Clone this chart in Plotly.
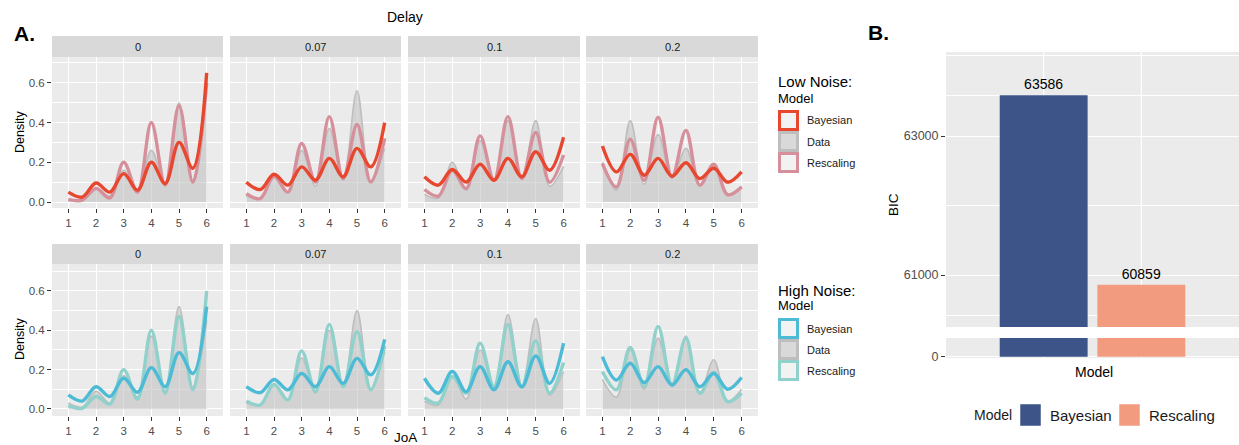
import plotly.graph_objects as go

W, H = 1239, 445
FONT = "Liberation Sans"

# ---------------- data ----------------
joa = [1, 1.5, 2, 2.5, 3, 3.5, 4, 4.5, 5, 5.5, 6]
delays = ["0", "0.07", "0.1", "0.2"]
x_ticks = [1, 2, 3, 4, 5, 6]
y_ticks = [0.0, 0.2, 0.4, 0.6]
y_ticklabels = ["0.0", "0.2", "0.4", "0.6"]

low_bayesian = [
    [0.05, 0.025, 0.096, 0.05, 0.143, 0.06, 0.20, 0.093, 0.30, 0.17, 0.65],
    [0.10, 0.063, 0.14, 0.085, 0.177, 0.11, 0.22, 0.127, 0.27, 0.177, 0.40],
    [0.127, 0.085, 0.164, 0.10, 0.19, 0.11, 0.22, 0.127, 0.253, 0.16, 0.326],
    [0.282, 0.152, 0.24, 0.135, 0.22, 0.13, 0.198, 0.118, 0.17, 0.10, 0.152],
]
low_rescaling = [
    [0.013, 0.01, 0.068, 0.02, 0.20, 0.05, 0.40, 0.085, 0.485, 0.10, 0.60],
    [0.042, 0.017, 0.13, 0.05, 0.295, 0.10, 0.43, 0.118, 0.39, 0.10, 0.32],
    [0.063, 0.03, 0.16, 0.068, 0.333, 0.11, 0.43, 0.118, 0.35, 0.10, 0.237],
    [0.194, 0.076, 0.316, 0.11, 0.427, 0.127, 0.36, 0.085, 0.19, 0.037, 0.076],
]
low_data = [
    [0.01, 0.005, 0.07, 0.03, 0.16, 0.06, 0.26, 0.09, 0.50, 0.10, 0.60],
    [0.03, 0.02, 0.13, 0.05, 0.26, 0.08, 0.37, 0.11, 0.56, 0.10, 0.27],
    [0.04, 0.02, 0.20, 0.06, 0.31, 0.11, 0.41, 0.12, 0.41, 0.08, 0.18],
    [0.20, 0.06, 0.41, 0.09, 0.34, 0.12, 0.27, 0.08, 0.19, 0.04, 0.08],
]
high_bayesian = [
    [0.071, 0.04, 0.113, 0.063, 0.156, 0.085, 0.21, 0.113, 0.286, 0.18, 0.52],
    [0.113, 0.083, 0.15, 0.097, 0.18, 0.113, 0.215, 0.13, 0.257, 0.173, 0.354],
    [0.156, 0.08, 0.19, 0.088, 0.215, 0.097, 0.24, 0.113, 0.27, 0.13, 0.334],
    [0.266, 0.147, 0.232, 0.134, 0.215, 0.122, 0.20, 0.113, 0.18, 0.10, 0.16],
]
high_rescaling = [
    [0.017, 0.003, 0.063, 0.025, 0.20, 0.05, 0.40, 0.08, 0.47, 0.097, 0.60],
    [0.04, 0.02, 0.125, 0.046, 0.295, 0.088, 0.43, 0.113, 0.393, 0.097, 0.32],
    [0.058, 0.03, 0.164, 0.08, 0.334, 0.113, 0.43, 0.113, 0.346, 0.08, 0.236],
    [0.19, 0.097, 0.313, 0.113, 0.42, 0.122, 0.36, 0.08, 0.185, 0.037, 0.08],
]
high_data = [
    [0.03, 0.01, 0.09, 0.03, 0.17, 0.06, 0.37, 0.09, 0.52, 0.11, 0.45],
    [0.03, 0.02, 0.12, 0.05, 0.26, 0.08, 0.40, 0.11, 0.50, 0.10, 0.29],
    [0.04, 0.02, 0.17, 0.05, 0.30, 0.11, 0.48, 0.11, 0.46, 0.07, 0.19],
    [0.15, 0.06, 0.30, 0.10, 0.36, 0.13, 0.37, 0.08, 0.25, 0.04, 0.10],
]

bic_models = ["Bayesian", "Rescaling"]
bic_values = [63586, 60859]
bic_category = "Model"

# ---------------- styles ----------------
C_LOW_BAYES = "#E8472F"
C_LOW_RESC = "#D6909B"
C_HIGH_BAYES = "#4DBBD5"
C_HIGH_RESC = "#91D1CB"
C_DATA_LINE = "#BEBEBE"
C_DATA_FILL = "rgba(190,190,190,0.55)"
C_BAR = {"Bayesian": "#3C5488", "Rescaling": "#F39B7F"}
PANEL_BG = "#EBEBEB"
STRIP_BG = "#D9D9D9"
TICK_FONT = dict(family=FONT, size=11.5, color="#4D4D4D")


def X(px):
    return px / W


def Y(px):
    return 1 - px / H


cols = [(52, 223), (230, 401), (408, 580), (586, 758)]
rows = [(57, 208), (264, 416)]
strips = [(36, 57), (244, 264)]
yranges = [[-0.03, 0.73], [-0.036, 0.737]]

fig = go.Figure()
layout = dict(
    template="none",
    width=W, height=H, margin=dict(l=0, r=0, t=0, b=0, pad=0, autoexpand=False),
    paper_bgcolor="white", plot_bgcolor=PANEL_BG, showlegend=False,
    font=dict(family=FONT, size=11, color="#1A1A1A"),
)
shapes = []
annotations = []

groups = [
    (low_data, low_rescaling, low_bayesian, C_LOW_RESC, C_LOW_BAYES),
    (high_data, high_rescaling, high_bayesian, C_HIGH_RESC, C_HIGH_BAYES),
]

for r, (dat, resc, bay, cr, cb) in enumerate(groups):
    for c in range(4):
        k = r * 4 + c + 1
        xa, ya = f"x{k}", f"y{k}"
        fig.add_trace(go.Scatter(
            x=joa, y=dat[c], xaxis=xa, yaxis=ya, mode="lines",
            line=dict(color=C_DATA_LINE, width=1.6, shape="spline", smoothing=1.0),
            fill="tozeroy", fillcolor=C_DATA_FILL, name="Data"))
        fig.add_trace(go.Scatter(
            x=joa, y=resc[c], xaxis=xa, yaxis=ya, mode="lines",
            line=dict(color=cr, width=3.4, shape="spline", smoothing=1.0),
            name="Rescaling"))
        fig.add_trace(go.Scatter(
            x=joa, y=bay[c], xaxis=xa, yaxis=ya, mode="lines",
            line=dict(color=cb, width=3.4, shape="spline", smoothing=1.0),
            name="Bayesian"))
        layout[f"xaxis{k}"] = dict(
            domain=[X(cols[c][0]), X(cols[c][1])], anchor=ya, automargin=False,
            range=[0.41, 6.59], tickvals=x_ticks, ticks="outside", ticklen=4,
            tickwidth=1, tickcolor="#333333", showgrid=True, gridcolor="white",
            gridwidth=1.2, zeroline=False, showline=False,
            tickfont=TICK_FONT, fixedrange=True)
        layout[f"yaxis{k}"] = dict(
            domain=[Y(rows[r][1]), Y(rows[r][0])], anchor=xa, automargin=False,
            range=yranges[r], tickvals=y_ticks, ticktext=y_ticklabels,
            showticklabels=(c == 0), ticks="outside" if c == 0 else "",
            ticklen=4, tickwidth=1, tickcolor="#333333",
            showgrid=True, gridcolor="white", gridwidth=1.2,
            minor=dict(tickvals=[0.1, 0.3, 0.5, 0.7], showgrid=True,
                       gridcolor="white", gridwidth=0.6, ticks=""),
            zeroline=False, showline=False,
            tickfont=TICK_FONT, fixedrange=True)
        # strip
        shapes.append(dict(type="rect", xref="paper", yref="paper",
                           x0=X(cols[c][0]), x1=X(cols[c][1]),
                           y0=Y(strips[r][1]), y1=Y(strips[r][0]),
                           fillcolor=STRIP_BG, line=dict(width=0), layer="below"))
        annotations.append(dict(text=delays[c], xref="paper", yref="paper",
                                x=X((cols[c][0] + cols[c][1]) / 2),
                                y=Y((strips[r][0] + strips[r][1]) / 2),
                                showarrow=False, xanchor="center", yanchor="middle",
                                font=dict(family=FONT, size=11, color="#1A1A1A")))

# ---------------- panel B ----------------
for m, v in zip(bic_models, bic_values):
    fig.add_trace(go.Bar(
        x=[bic_category], y=[v], xaxis="x9", yaxis="y9", name=m,
        marker=dict(color=C_BAR[m], line=dict(width=0)),
        text=[str(v)], textposition="outside", cliponaxis=False,
        textfont=dict(family=FONT, size=14, color="black")))
for m, v in zip(bic_models, bic_values):
    fig.add_trace(go.Bar(
        x=[bic_category], y=[v], xaxis="x9", yaxis="y10", name=m,
        marker=dict(color=C_BAR[m], line=dict(width=0))))

B_TICK_FONT = dict(family=FONT, size=12.5, color="#4D4D4D")
layout["barmode"] = "group"
layout["bargap"] = 0.2
layout["bargroupgap"] = 0.1
layout["xaxis9"] = dict(domain=[X(946), X(1239)], anchor="y10", type="category",
                        automargin=False,
                        range=[-0.6, 0.6], showticklabels=False, ticks="",
                        showgrid=False, zeroline=False, fixedrange=True)
layout["yaxis9"] = dict(domain=[Y(327), Y(52)], anchor="x9", automargin=False,
                        range=[60252, 64209], tickvals=[61000, 63000],
                        ticktext=["61000", "63000"], ticks="outside", ticklen=4,
                        tickcolor="#333333", showgrid=True, gridcolor="white",
                        gridwidth=1.2,
                        minor=dict(tickvals=[60424, 62000, 63590, 64165], showgrid=True,
                                   gridcolor="white", gridwidth=0.6, ticks=""),
                        zeroline=False, tickfont=B_TICK_FONT, fixedrange=True)
layout["yaxis10"] = dict(domain=[Y(358), Y(338)], anchor="x9", automargin=False,
                         range=[-60, 940], tickvals=[0], ticktext=["0"],
                         ticks="outside", ticklen=4, tickcolor="#333333",
                         showgrid=True, gridcolor="white", gridwidth=1.2,
                         zeroline=False, tickfont=B_TICK_FONT, fixedrange=True)
# vertical grid lines at the dodged bar centres
for yref in ["y9 domain", "y10 domain"]:
    for gx in [-0.2, 0.2]:
        shapes.append(dict(type="line", xref="x9", yref=yref, x0=gx, x1=gx, y0=0, y1=1,
                           line=dict(color="white", width=1.2), layer="below"))

# ---------------- text ----------------
def ann(text, x, y, size, color="#1A1A1A", xanchor="center", angle=0, bold=False):
    annotations.append(dict(text=f"<b>{text}</b>" if bold else text, xref="paper",
                            yref="paper", x=X(x), y=Y(y), showarrow=False,
                            xanchor=xanchor, yanchor="middle", textangle=angle,
                            font=dict(family=FONT, size=size, color=color)))

ann("Delay", 405, 17, 14, "black")
ann("A.", 12, 33, 21, "black", xanchor="left", bold=True)
ann("B.", 866, 32, 21, "black", xanchor="left", bold=True)
ann("Density", 20, 132, 12.5, "black", angle=-90)
ann("Density", 20, 339, 12.5, "black", angle=-90)
ann("JoA", 405, 437, 13.5, "black")
ann("BIC", 893, 205, 13.5, "black", angle=-90)
ann(bic_category, 1094, 372, 14, "black")

# legends of panel A
legend_specs = [
    ("Low Noise:", 82, 98, 110, [C_LOW_BAYES, C_DATA_LINE, C_LOW_RESC]),
    ("High Noise:", 290, 305, 318, [C_HIGH_BAYES, C_DATA_LINE, C_HIGH_RESC]),
]
key_labels = ["Bayesian", "Data", "Rescaling"]
for title, ty, my, ky0, ccols in legend_specs:
    ann(title, 776, ty, 15, "black", xanchor="left")
    ann("Model", 776, my, 13, "black", xanchor="left")
    for i, (lab, col) in enumerate(zip(key_labels, ccols)):
        y0 = ky0 + i * 21
        fill = "#D9D9D9" if lab == "Data" else "#F2F2F2"
        shapes.append(dict(type="rect", xref="paper", yref="paper",
                           x0=X(779.5), x1=X(797.5), y0=Y(y0 + 19.5), y1=Y(y0 + 1.5),
                           fillcolor=fill, line=dict(color=col, width=3)))
        ann(lab, 805, y0 + 10.5, 11, "#1A1A1A", xanchor="left")

# legend of panel B
ann("Model", 993, 415, 14, "#1A1A1A")
for lab, sx in zip(bic_models, [1020, 1119]):
    shapes.append(dict(type="rect", xref="paper", yref="paper",
                       x0=X(sx), x1=X(sx + 21), y0=Y(426), y1=Y(404),
                       fillcolor=C_BAR[lab], line=dict(width=0.5, color="white")))
    ann(lab, sx + 28, 415, 15, "#1A1A1A", xanchor="left")

layout["shapes"] = shapes
layout["annotations"] = annotations
fig.update_layout(**layout)
fig.write_html("out.html")
